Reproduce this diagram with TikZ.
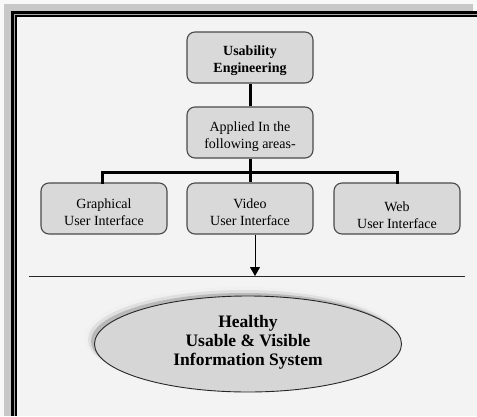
\documentclass[tikz,border=0pt]{standalone}
\usepackage{fontspec}
\setmainfont{Liberation Serif}
\usetikzlibrary{arrows.meta,shapes.geometric}
\definecolor{pagebg}{HTML}{F3F3F3}
\definecolor{outerbg}{HTML}{F8F8F8}
\definecolor{band}{HTML}{C8C8C8}
\definecolor{boxfill}{HTML}{D9D9D9}
\definecolor{boxline}{HTML}{4A4A4A}
\definecolor{ellfill}{HTML}{D6D6D6}
\tikzset{
  box/.style={draw=boxline, line width=1.1pt, fill=boxfill, rounded corners=8pt,
    minimum width=126pt, minimum height=51pt, inner sep=0pt},
  boxtext/.style={align=center, font=\fontsize{14}{17}\selectfont, inner sep=0pt},
  boldtext/.style={align=center, font=\fontsize{14}{17}\selectfont\bfseries, inner sep=0pt},
  thickconn/.style={line width=3pt, black},
  thinconn/.style={line width=1pt, black}
}
\begin{document}
\begin{tikzpicture}[x=1pt,y=-1pt]
\useasboundingbox (0,0) rectangle (477,416);
% page frame
\fill[outerbg] (0,0) rectangle (477,416);
\fill[band] (4,4) rectangle (473,416);
\fill[black] (11,11) rectangle (477,416);
\fill[gray!70] (13.5,13.5) rectangle (477,416);
\fill[black] (14.5,14.5) rectangle (477,416);
\fill[pagebg] (16.5,16.5) rectangle (477,416);

% boxes
\node[box] (ue) at (250,57.5) {};
\node[boldtext] (uet) at ([yshift=-3]ue.center) {Usability\\Engineering};
\node[box] (ap) at (250,132.5) {};
\node[boxtext] (apt) at ([yshift=-4]ap.center) {Applied In the\\following areas-};
\node[box] (gui) at (104,208.5) {};
\node[boxtext] (guit) at ([yshift=-3.5]gui.center) {Graphical\\User Interface};
\node[box] (vid) at (250,208.5) {};
\node[boxtext] (vidt) at ([yshift=-3.5]vid.center) {Video\\User Interface};
\node[box] (web) at (397,208.5) {};
\node[boxtext] (webt) at ([yshift=-6.5]web.center) {Web\\User Interface};

% tree connectors
\coordinate (bus) at (250,172);
\draw[thickconn] (ue.south) -- (ap.north);
\draw[thickconn] (ap.south) -- (bus);
\draw[thickconn, line cap=rect] (gui.north -| 102,0) |- (bus) -| (web.north);
\draw[thickconn] (bus) -- (vid.north);

% arrow and rule
\coordinate (rl) at (29,276);
\coordinate (rr) at (465,276);
\coordinate (aend) at (255,276);
\draw[thinconn, -{Triangle[length=9pt,width=10pt]}] ([xshift=5]vid.south) -- (aend);
\draw[line width=1pt, black!85] (rl) -- (rr);

% ellipse with shadow
\fill[gray!12] (242,338) ellipse [x radius=157, y radius=51];
\fill[gray!25] (243,339.5) ellipse [x radius=155, y radius=49.5];
\fill[gray!55] (244.5,341) ellipse [x radius=153.5, y radius=48];
\node[ellipse, draw=black!85, line width=0.9pt, fill=ellfill,
  minimum width=307pt, minimum height=96pt, inner sep=0pt] (sys) at (248,344) {};
\node[align=center, inner sep=0pt, font=\fontsize{17.5}{19}\selectfont\bfseries] (syst)
  at ([yshift=2]sys.center) {Healthy\\Usable \& Visible\\Information System};
\end{tikzpicture}
\end{document}
